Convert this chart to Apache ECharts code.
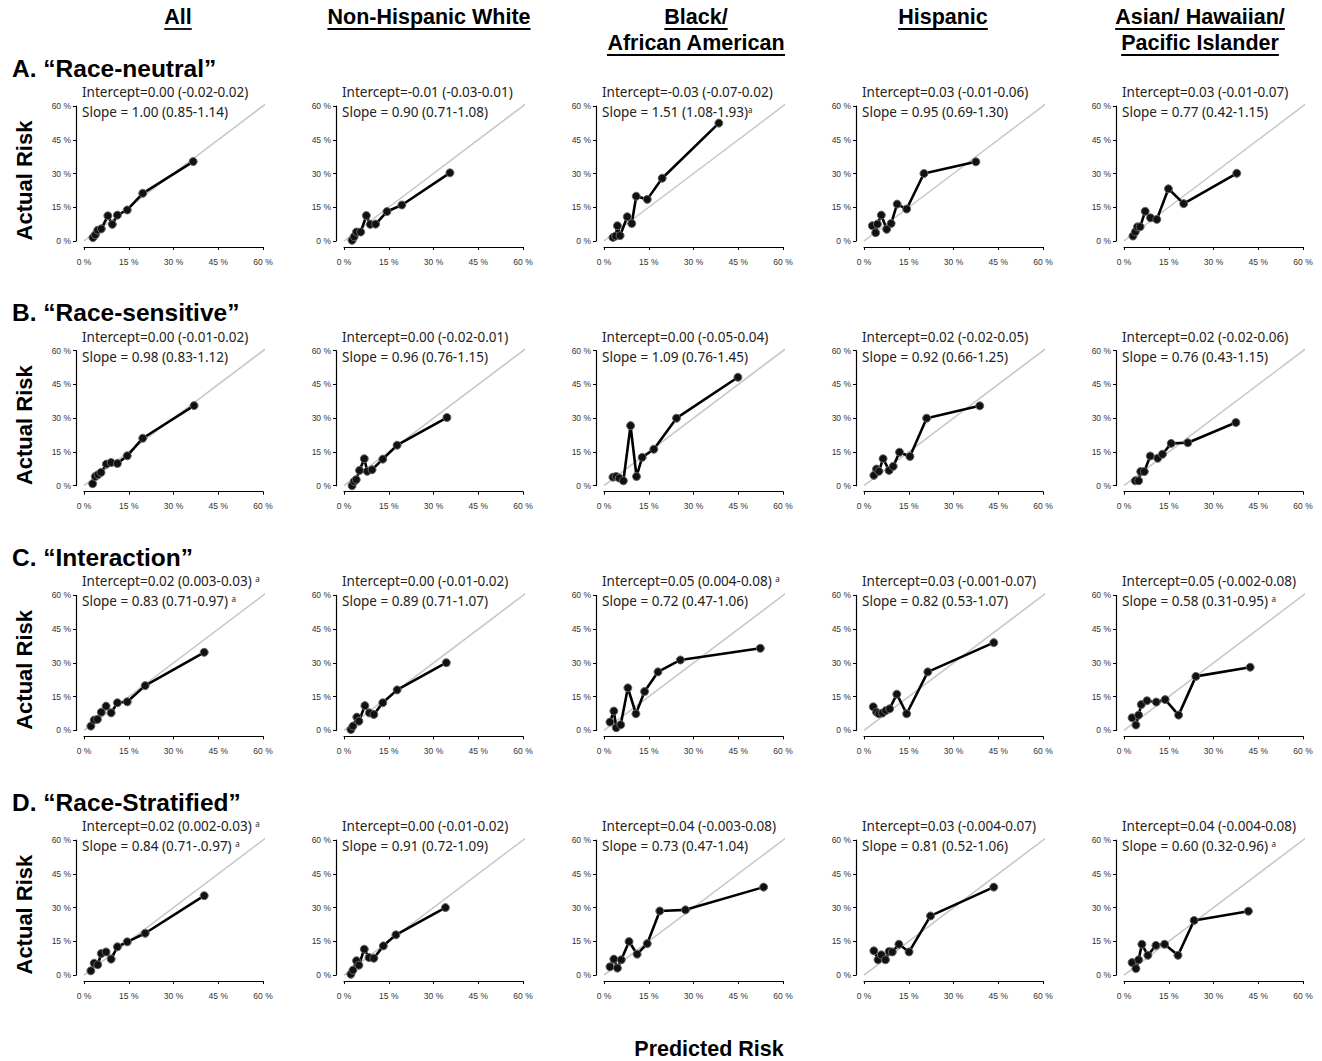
<!DOCTYPE html>
<html>
<head>
<meta charset="utf-8">
<script src="https://cdn.jsdelivr.net/npm/echarts/dist/echarts.min.js"></script>
<style>
html,body{margin:0;padding:0;background:#fff;}
#c{width:1322px;height:1061px;}
</style>
</head>
<body>
<div id="c"></div>
<script>
// ---------- data ----------
const columnHeaders = [['All'], ['Non-Hispanic White'], ['Black/', 'African American'], ['Hispanic'], ['Asian/ Hawaiian/', 'Pacific Islander']];
const modelLabels = ['A. \u201cRace-neutral\u201d', 'B. \u201cRace-sensitive\u201d', 'C. \u201cInteraction\u201d', 'D. \u201cRace-Stratified\u201d'];
const tickValues = [0, 15, 30, 45, 60];
const tickLabels = ['0 %', '15 %', '30 %', '45 %', '60 %'];
const yTitle = 'Actual Risk';
const xTitle = 'Predicted Risk';

const predictedA = [
  [3.0, 3.8, 4.6, 5.8, 8.0, 9.5, 11.2, 14.5, 19.7, 36.6],
  [2.7, 3.4, 4.2, 5.6, 7.5, 8.8, 10.6, 14.4, 19.4, 35.5],
  [3.0, 3.9, 4.5, 5.4, 7.8, 9.3, 10.8, 14.5, 19.5, 38.5],
  [2.8, 3.9, 4.5, 5.8, 7.6, 9.1, 11.1, 14.3, 20.1, 37.5],
  [3.0, 3.8, 4.5, 5.4, 7.1, 8.9, 11.0, 14.9, 20.0, 37.8]];
const actualA = [
  [1.5, 2.8, 4.8, 5.4, 11.2, 7.4, 11.5, 13.8, 21.2, 35.3],
  [0.3, 1.9, 4.0, 4.0, 11.3, 7.4, 7.5, 13.1, 16.0, 30.3],
  [1.6, 2.2, 6.8, 2.4, 10.8, 7.8, 19.9, 18.5, 27.9, 52.4],
  [6.8, 3.7, 7.5, 11.5, 5.2, 7.8, 16.4, 14.2, 30.0, 35.2],
  [2.2, 4.1, 6.3, 6.3, 13.2, 10.3, 9.6, 23.2, 16.6, 30.1]];

const predictedB = [
  [2.9, 3.8, 4.7, 5.7, 7.5, 9.1, 11.2, 14.5, 19.7, 36.9],
  [2.7, 3.4, 4.1, 5.2, 6.8, 7.8, 9.4, 13.0, 17.8, 34.5],
  [3.0, 4.1, 5.1, 6.5, 8.9, 10.9, 12.8, 16.7, 24.3, 44.9],
  [3.3, 4.2, 5.0, 6.4, 8.4, 9.8, 11.9, 15.4, 21.0, 38.8],
  [3.8, 4.9, 5.6, 6.8, 8.8, 11.3, 12.9, 15.8, 21.4, 37.5]];
const actualB = [
  [0.9, 4.1, 4.9, 5.9, 9.6, 10.3, 9.9, 13.3, 21.1, 35.6],
  [0.0, 1.9, 2.7, 6.8, 12.0, 6.4, 7.1, 11.8, 18.0, 30.3],
  [3.8, 4.1, 3.4, 2.2, 26.7, 4.1, 12.6, 16.2, 30.0, 48.2],
  [4.6, 7.4, 6.4, 12.0, 6.8, 8.6, 14.9, 13.0, 30.0, 35.5],
  [2.2, 2.2, 6.3, 6.3, 13.2, 12.2, 14.0, 18.8, 19.1, 28.1]];

const predictedC = [
  [2.3, 3.4, 4.5, 5.8, 7.4, 9.1, 11.2, 14.5, 20.5, 40.3],
  [2.3, 3.0, 4.3, 5.0, 7.0, 8.5, 10.0, 13.0, 17.8, 34.3],
  [2.0, 3.3, 4.1, 5.6, 8.0, 10.7, 13.6, 18.1, 25.6, 52.4],
  [3.1, 4.2, 5.0, 6.2, 7.3, 8.6, 11.0, 14.3, 21.4, 43.5],
  [2.7, 4.0, 4.9, 5.8, 7.7, 10.8, 13.8, 18.3, 24.1, 42.3]];
const actualC = [
  [1.9, 4.6, 4.9, 8.1, 10.8, 7.8, 12.3, 12.7, 19.9, 34.7],
  [0.4, 1.9, 5.9, 4.1, 11.0, 7.8, 7.1, 12.3, 18.0, 30.1],
  [3.7, 8.6, 1.2, 2.5, 18.9, 7.4, 17.3, 26.0, 31.3, 36.5],
  [10.5, 8.1, 7.4, 7.7, 8.8, 9.6, 16.1, 7.4, 26.0, 39.0],
  [5.6, 2.4, 6.8, 11.5, 13.2, 12.6, 13.7, 6.8, 24.0, 28.1]];

const predictedD = [
  [2.3, 3.4, 4.6, 5.8, 7.4, 9.1, 11.2, 14.5, 20.5, 40.3],
  [2.3, 3.0, 4.2, 5.0, 6.8, 8.4, 10.0, 13.2, 17.4, 34.0],
  [2.0, 3.3, 4.5, 5.8, 8.4, 11.1, 14.5, 18.7, 27.3, 53.5],
  [3.3, 4.7, 5.8, 7.2, 8.4, 9.5, 11.7, 15.1, 22.3, 43.5],
  [2.7, 4.0, 4.9, 6.0, 8.0, 10.7, 13.6, 18.1, 23.5, 41.7]];
const actualD = [
  [1.9, 5.3, 4.6, 9.6, 10.3, 7.1, 12.6, 14.8, 18.6, 35.3],
  [0.4, 2.2, 6.4, 4.4, 11.5, 7.8, 7.5, 13.0, 17.9, 30.0],
  [3.7, 7.1, 3.1, 6.8, 14.9, 9.3, 14.0, 28.5, 29.0, 39.1],
  [10.8, 6.8, 9.0, 6.8, 10.5, 10.3, 13.7, 10.3, 26.3, 39.1],
  [5.6, 2.9, 6.8, 13.7, 8.8, 13.2, 13.7, 8.8, 24.3, 28.4]];

const interceptA = ['0.00 (-0.02-0.02)', '-0.01 (-0.03-0.01)', '-0.03 (-0.07-0.02)', '0.03 (-0.01-0.06)', '0.03 (-0.01-0.07)'];
const slopeA = ['1.00 (0.85-1.14)', '0.90 (0.71-1.08)', '1.51 (1.08-1.93)^a', '0.95 (0.69-1.30)', '0.77 (0.42-1.15)'];
const interceptB = ['0.00 (-0.01-0.02)', '0.00 (-0.02-0.01)', '0.00 (-0.05-0.04)', '0.02 (-0.02-0.05)', '0.02 (-0.02-0.06)'];
const slopeB = ['0.98 (0.83-1.12)', '0.96 (0.76-1.15)', '1.09 (0.76-1.45)', '0.92 (0.66-1.25)', '0.76 (0.43-1.15)'];
const interceptC = ['0.02 (0.003-0.03) ^a', '0.00 (-0.01-0.02)', '0.05 (0.004-0.08) ^a', '0.03 (-0.001-0.07)', '0.05 (-0.002-0.08)'];
const slopeC = ['0.83 (0.71-0.97) ^a', '0.89 (0.71-1.07)', '0.72 (0.47-1.06)', '0.82 (0.53-1.07)', '0.58 (0.31-0.95) ^a'];
const interceptD = ['0.02 (0.002-0.03) ^a', '0.00 (-0.01-0.02)', '0.04 (-0.003-0.08)', '0.03 (-0.004-0.07)', '0.04 (-0.004-0.08)'];
const slopeD = ['0.84 (0.71-.0.97) ^a', '0.91 (0.72-1.09)', '0.73 (0.47-1.04)', '0.81 (0.52-1.06)', '0.60 (0.32-0.96) ^a'];

const rows = [
  {pred: predictedA, act: actualA, ic: interceptA, sl: slopeA},
  {pred: predictedB, act: actualB, ic: interceptB, sl: slopeB},
  {pred: predictedC, act: actualC, ic: interceptC, sl: slopeC},
  {pred: predictedD, act: actualD, ic: interceptD, sl: slopeD}
];

// ---------- layout ----------
const GL = 84, GW = 179, GSX = 260, GT = 106, GH = 135, GSY = 244.7;
const headerX = [178, 429, 696, 943, 1200];
const ANN_FONT = 'Noto Sans';
const HEAD_FONT = 'Liberation Sans';
const HEAD_SIZE = 21.5;

const chart = echarts.init(document.getElementById('c'), null, {renderer: 'svg', width: 1322, height: 1061});

const grids = [], xAxes = [], yAxes = [], series = [], elements = [];
const richSup = {s: {fontSize: 8, verticalAlign: 'top', fontFamily: ANN_FONT, fill: '#222'}};
function toRich(t) { return t.replace('^a', '{s|a}'); }

const measureCtx = document.createElement('canvas').getContext('2d');
function textWidth(t, font) { measureCtx.font = font; return measureCtx.measureText(t).width; }

const tickLabelStyle = {fontSize: 8.5, color: '#333', fontFamily: HEAD_FONT,
  formatter: v => tickLabels[tickValues.indexOf(v)]};

rows.forEach((row, r) => {
  const top = GT + r * GSY;
  row.pred.forEach((px, c) => {
    const i = r * 5 + c;
    const left = GL + c * GSX;
    grids.push({left: left, top: top, width: GW, height: GH, containLabel: false});
    xAxes.push({
      gridIndex: i, type: 'value', min: 0, max: 60, interval: 15, offset: 6,
      axisLine: {show: true, onZero: false, lineStyle: {color: '#000', width: 1.2}},
      axisTick: {show: true, length: 3, lineStyle: {color: '#000', width: 1}},
      axisLabel: Object.assign({margin: 10}, tickLabelStyle),
      splitLine: {show: false}
    });
    yAxes.push({
      gridIndex: i, type: 'value', min: 0, max: 60, interval: 15, offset: 8,
      axisLine: {show: true, onZero: false, lineStyle: {color: '#000', width: 1.2}},
      axisTick: {show: true, length: 3, lineStyle: {color: '#000', width: 1}},
      axisLabel: Object.assign({margin: 5}, tickLabelStyle),
      splitLine: {show: false}
    });
    series.push({
      type: 'line', xAxisIndex: i, yAxisIndex: i, data: [[0, 0], [62.4, 62.4]],
      symbol: 'none', clip: false, silent: true, z: 1,
      lineStyle: {color: '#c6c6c6', width: 1.5}
    });
    series.push({
      type: 'line', xAxisIndex: i, yAxisIndex: i,
      data: px.map((x, k) => [x, row.act[c][k]]),
      symbol: 'circle', symbolSize: 8, z: 3, clip: false,
      lineStyle: {color: '#000', width: 2.6},
      itemStyle: {color: '#111', borderColor: '#666', borderWidth: 1}
    });
    // annotation texts
    elements.push({type: 'text', left: left - 2, top: top - 21, silent: true,
      style: {text: toRich('Intercept=' + row.ic[c]), fontSize: 13.5, fontFamily: ANN_FONT, fill: '#222', rich: richSup}});
    elements.push({type: 'text', left: left - 2, top: top - 1, silent: true,
      style: {text: toRich('Slope = ' + row.sl[c]), fontSize: 13.5, fontFamily: ANN_FONT, fill: '#222', rich: richSup}});
  });
  // row label
  elements.push({type: 'text', x: 12, y: top - 38, silent: true,
    style: {text: modelLabels[r], fontSize: 24.5, fontWeight: 'bold', fontFamily: HEAD_FONT, fill: '#000', align: 'left', verticalAlign: 'middle'}});
  // y title
  elements.push({type: 'text', x: 24, y: top + GH / 2 + 7, rotation: Math.PI / 2, silent: true,
    style: {text: yTitle, fontSize: 22, fontWeight: 'bold', fontFamily: HEAD_FONT, fill: '#000', align: 'center', verticalAlign: 'middle'}});
});

// column headers (underlined)
columnHeaders.forEach((lines, c) => {
  lines.forEach((t, k) => {
    const y = 17 + k * 26;
    const font = 'bold ' + HEAD_SIZE + 'px "' + HEAD_FONT + '"';
    const w = textWidth(t, font);
    elements.push({type: 'text', x: headerX[c], y: y, silent: true,
      style: {text: t, fontSize: HEAD_SIZE, fontWeight: 'bold', fontFamily: HEAD_FONT, fill: '#000', align: 'center', verticalAlign: 'middle'}});
    elements.push({type: 'line', silent: true,
      shape: {x1: headerX[c] - w / 2, y1: y + 12, x2: headerX[c] + w / 2, y2: y + 12},
      style: {stroke: '#000', lineWidth: 1.8}});
  });
});

elements.push({type: 'text', x: 709, y: 1049, silent: true,
  style: {text: xTitle, fontSize: 21.5, fontWeight: 'bold', fontFamily: HEAD_FONT, fill: '#000', align: 'center', verticalAlign: 'middle'}});

chart.setOption({
  animation: false,
  backgroundColor: '#fff',
  grid: grids,
  xAxis: xAxes,
  yAxis: yAxes,
  series: series,
  graphic: {elements: elements}
});
</script>
</body>
</html>
